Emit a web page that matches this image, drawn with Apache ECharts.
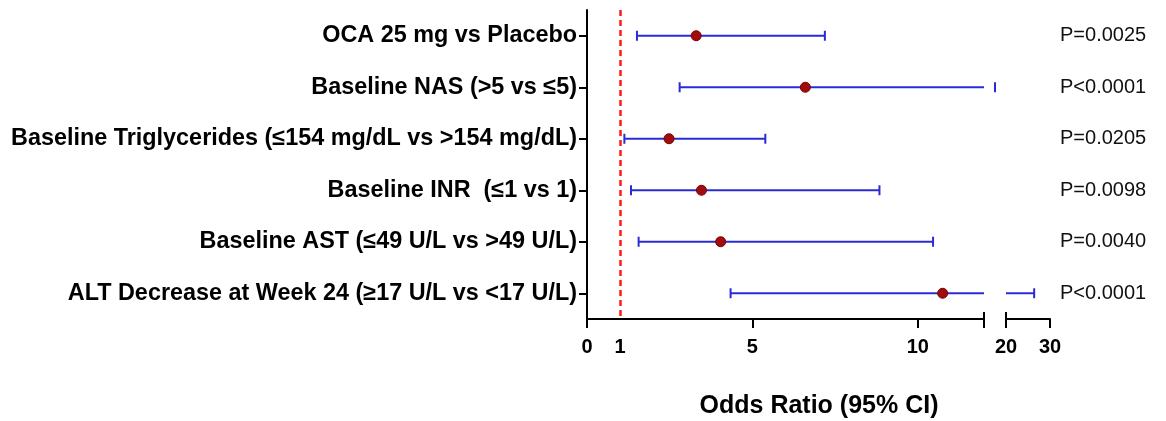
<!DOCTYPE html>
<html>
<head>
<meta charset="utf-8">
<script src="https://cdn.jsdelivr.net/npm/echarts@6/dist/echarts.min.js"></script>
<style>html,body{margin:0;padding:0;background:#fff;}#c{width:1166px;height:421px;}</style>
</head>
<body>
<div id="c"></div>
<script>
const categories = [
  'OCA 25 mg vs Placebo',
  'Baseline NAS (>5 vs \u22645)',
  'Baseline Triglycerides (\u2264154 mg/dL vs >154 mg/dL)',
  'Baseline INR  (\u22641 vs 1)',
  'Baseline AST (\u226449 U/L vs >49 U/L)',
  'ALT Decrease at Week 24 (\u226517 U/L vs <17 U/L)'
];
const oddsRatio = [3.30, 6.60, 2.48, 3.46, 4.04, 10.75];
const ciLower   = [1.51, 2.80, 1.13, 1.33, 1.56, 4.34];
const ciUpper   = [7.19, 16.0, 5.39, 8.84, 10.46, 26.4];
const pValues = ['P=0.0025', 'P<0.0001', 'P=0.0205', 'P=0.0098', 'P=0.0040', 'P<0.0001'];
const refLine = 1;
const leftRange = [0, 12];
const gapRange = [12, 20];
const rightRange = [20, 30];
const leftTicks = [0, 5, 10, 12];
const leftLabels = [0, 1, 5, 10];
const rightTicks = [20, 30];

const FONT = 'Liberation Sans, Arial, sans-serif';
const ciData = categories.map((c, i) => [ciLower[i], ciUpper[i], i]);
const pointData = categories.map((c, i) => [oddsRatio[i], i]);

function makeRender(a, b, drawLine) {
  return function (params, api) {
    const lo = api.value(0), hi = api.value(1), idx = api.value(2);
    if (hi < a || lo > b) return;
    const s = Math.max(lo, a), e = Math.min(hi, b);
    const p1 = api.coord([s, idx]), p2 = api.coord([e, idx]);
    const y = p1[1];
    const st = { stroke: '#2b2bd6', lineWidth: 2 };
    const ch = [];
    if (drawLine) ch.push({ type: 'line', shape: { x1: p1[0], y1: y, x2: p2[0], y2: y }, style: st });
    if (lo >= a && lo <= b) ch.push({ type: 'line', shape: { x1: p1[0], y1: y - 5, x2: p1[0], y2: y + 5 }, style: st });
    if (hi >= a && hi <= b) ch.push({ type: 'line', shape: { x1: p2[0], y1: y - 5, x2: p2[0], y2: y + 5 }, style: st });
    return { type: 'group', children: ch };
  };
}

const axisLineStyle = { color: '#000', width: 2 };
const gridTop = 10, gridH = 309;

const option = {
  animation: false,
  backgroundColor: '#fff',
  textStyle: { fontFamily: FONT },
  title: {
    text: 'Odds Ratio (95% CI)',
    left: 819, textAlign: 'center', top: 394, padding: 0,
    textStyle: { fontFamily: FONT, fontWeight: 'bold', fontSize: 25, color: '#000' }
  },
  grid: [
    { left: 587, width: 397, top: gridTop, height: gridH },
    { left: 1006, width: 44, top: gridTop, height: gridH },
    { left: 984, width: 22, top: gridTop, height: gridH }
  ],
  xAxis: [
    { gridIndex: 0, type: 'value', position: 'bottom', min: leftRange[0], max: leftRange[1],
      axisLine: { show: true, lineStyle: axisLineStyle },
      axisTick: { show: true, customValues: leftTicks, length: 9, lineStyle: axisLineStyle },
      axisLabel: { customValues: leftLabels, fontFamily: FONT, fontWeight: 'bold', fontSize: 20, color: '#000', margin: 18 },
      splitLine: { show: false } },
    { gridIndex: 0, type: 'value', position: 'bottom', min: leftRange[0], max: leftRange[1],
      axisLine: { show: false },
      axisTick: { show: true, inside: true, customValues: [leftRange[1]], length: 7, lineStyle: axisLineStyle },
      axisLabel: { show: false }, splitLine: { show: false } },
    { gridIndex: 1, type: 'value', position: 'bottom', min: rightRange[0], max: rightRange[1],
      axisLine: { show: true, lineStyle: axisLineStyle },
      axisTick: { show: true, customValues: rightTicks, length: 9, lineStyle: axisLineStyle },
      axisLabel: { customValues: rightTicks, fontFamily: FONT, fontWeight: 'bold', fontSize: 20, color: '#000', margin: 18 },
      splitLine: { show: false } },
    { gridIndex: 1, type: 'value', position: 'bottom', min: rightRange[0], max: rightRange[1],
      axisLine: { show: false },
      axisTick: { show: true, inside: true, customValues: [rightRange[0]], length: 7, lineStyle: axisLineStyle },
      axisLabel: { show: false }, splitLine: { show: false } },
    { gridIndex: 2, type: 'value', min: gapRange[0], max: gapRange[1], show: false }
  ],
  yAxis: [
    { gridIndex: 0, type: 'category', data: categories, inverse: true,
      axisLine: { show: true, lineStyle: axisLineStyle },
      axisTick: { show: true, alignWithLabel: true, length: 8, lineStyle: axisLineStyle },
      axisLabel: { fontFamily: FONT, fontWeight: 'bold', fontSize: 23.4, color: '#000', margin: 10 },
      splitLine: { show: false } },
    { gridIndex: 1, type: 'category', data: pValues, inverse: true, position: 'right',
      axisLine: { show: false }, axisTick: { show: false },
      axisLabel: { fontFamily: FONT, fontSize: 20, color: '#111', margin: 10 },
      splitLine: { show: false } },
    { gridIndex: 2, type: 'category', data: categories, inverse: true, show: false }
  ],
  series: [
    { type: 'custom', xAxisIndex: 0, yAxisIndex: 0, data: ciData, encode: { x: [0, 1], y: 2 },
      renderItem: makeRender(leftRange[0], leftRange[1], true), z: 2 },
    { type: 'custom', xAxisIndex: 4, yAxisIndex: 2, data: ciData, encode: { x: [0, 1], y: 2 },
      renderItem: makeRender(gapRange[0], gapRange[1], false), z: 2 },
    { type: 'custom', xAxisIndex: 2, yAxisIndex: 1, data: ciData, encode: { x: [0, 1], y: 2 },
      renderItem: makeRender(rightRange[0], rightRange[1], true), z: 2 },
    { type: 'scatter', xAxisIndex: 0, yAxisIndex: 0, data: pointData, symbol: 'circle', symbolSize: 10,
      itemStyle: { color: '#a00d0d', borderColor: '#7a0000', borderWidth: 1, opacity: 1 }, z: 5,
      markLine: { silent: true, symbol: ['none', 'none'], label: { show: false },
        lineStyle: { color: '#ff1a1a', type: [6, 4], width: 2.5 },
        data: [{ xAxis: refLine }] } }
  ]
};
const chart = echarts.init(document.getElementById('c'));
chart.setOption(option);
</script>
</body>
</html>
